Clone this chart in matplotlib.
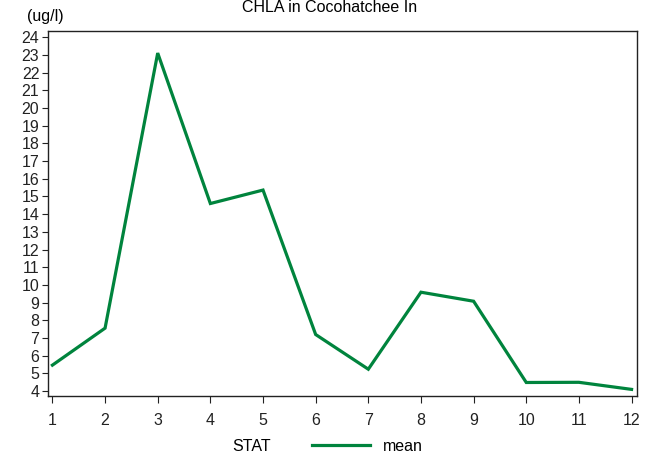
import matplotlib
matplotlib.use("Agg")
import matplotlib.pyplot as plt
from matplotlib.lines import Line2D

plt.rcParams['font.family'] = ['Liberation Sans', 'DejaVu Sans']

months = [1, 2, 3, 4, 5, 6, 7, 8, 9, 10, 11, 12]
mean_vals = [5.47, 7.56, 23.1, 14.6, 15.36, 7.2, 5.24, 9.59, 9.08, 4.49, 4.5, 4.1]
yticks = list(range(4, 25))
title = "CHLA in Cocohatchee In"
ylabel = "(ug/l)"
legend_title = "STAT"
series_name = "mean"
color = "#00843D"

fs = 11.5
fig = plt.figure(figsize=(6.46, 4.59), dpi=100)
ax = fig.add_axes([0.0738, 0.137, 0.912, 0.796])
ax.plot(months, mean_vals, color=color, lw=2.3, solid_joinstyle='miter')
ax.set_xlim(0.91, 12.1)
ax.set_ylim(3.72, 24.36)
ax.set_xticks(months)
ax.set_yticks(yticks)
ax.tick_params(axis='both', labelsize=fs, direction='out', length=4, width=0.8, colors='#222222')
ax.tick_params(axis='x', length=5, pad=7)
ax.tick_params(axis='y', pad=2)
for s in ax.spines.values():
    s.set_linewidth(1.0)
    s.set_color('#222222')

fig.text(0.51, 0.983, title, ha='center', va='center', fontsize=fs)
fig.text(45/646, 1 - 16.5/459, ylabel, ha='center', va='center', fontsize=fs)

fig.text(252/646, 1 - 446.5/459, legend_title, ha='center', va='center', fontsize=fs)
fig.add_artist(Line2D([312/646, 370/646], [1 - 445/459, 1 - 445/459], color=color, lw=2.3, transform=fig.transFigure))
fig.text(383/646, 1 - 446.5/459, series_name, ha='left', va='center', fontsize=fs)

fig.savefig("out.png", dpi=100)
